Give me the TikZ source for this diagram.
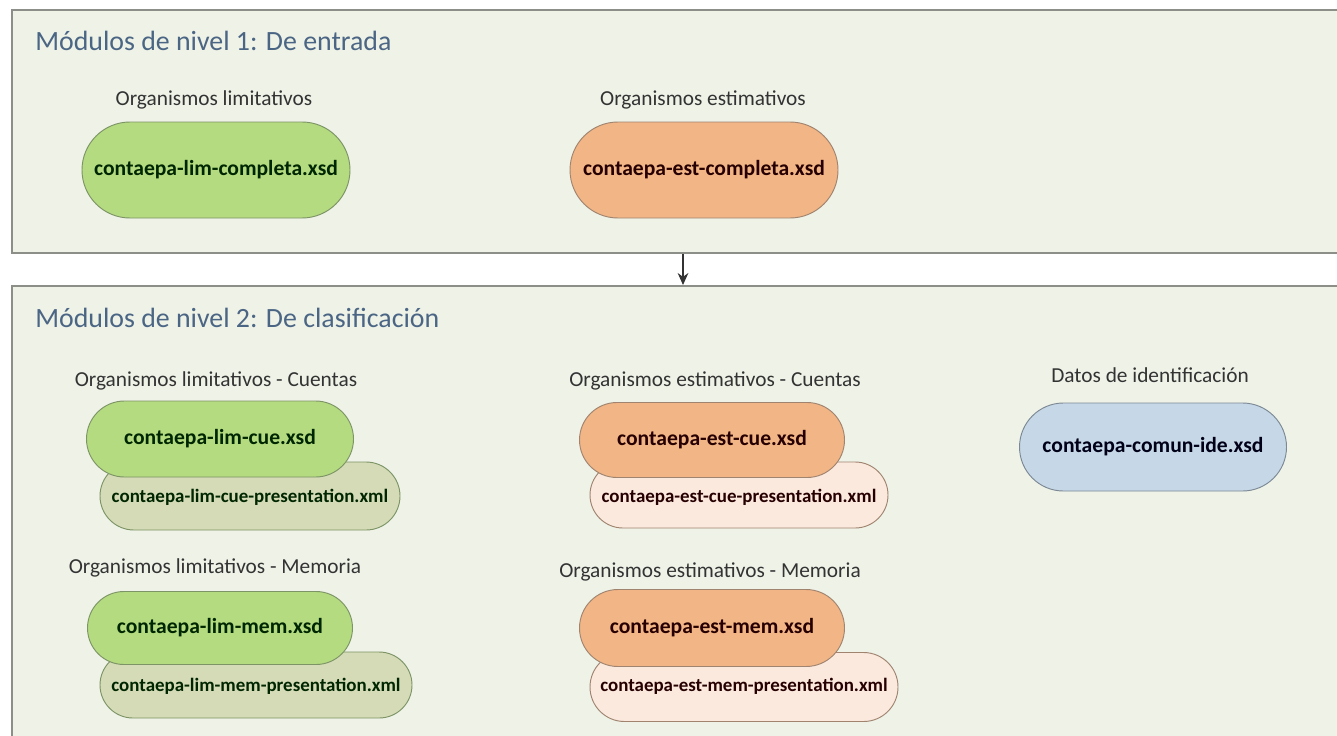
\documentclass[tikz,border=0pt]{standalone}
\usepackage{fontspec}
\setmainfont{Carlito}
\usetikzlibrary{shapes.misc,arrows.meta}
\definecolor{bgpanel}{HTML}{EEF2E7}
\definecolor{panelline}{HTML}{8C8F88}
\definecolor{titlecol}{HTML}{4B6584}
\definecolor{limfill}{HTML}{B4DB80}
\definecolor{limline}{HTML}{7D9466}
\definecolor{limpres}{HTML}{D4DBB6}
\definecolor{estfill}{HTML}{F2B585}
\definecolor{estline}{HTML}{A08470}
\definecolor{estpres}{HTML}{FBE9DE}
\definecolor{idefill}{HTML}{C6D7E7}
\definecolor{ideline}{HTML}{7C8894}
\definecolor{labcol}{HTML}{333333}
\tikzset{
  panel/.style={draw=panelline, line width=1.2pt, fill=bgpanel, inner sep=0pt, anchor=north west},
  paneltitle/.style={anchor=west, inner sep=0pt, text=titlecol, font=\fontsize{20.9}{23}\selectfont},
  grouplabel/.style={inner sep=0pt, text=labcol, font=\fontsize{16}{18}\selectfont},
  pill/.style={rounded rectangle, line width=0.7pt, inner sep=0pt, font=\bfseries\fontsize{16.2}{18}\selectfont},
  pres/.style={rounded rectangle, line width=0.7pt, inner sep=0pt},
  prestext/.style={inner sep=0pt, font=\bfseries\fontsize{14.2}{16}\selectfont},
  limxsd/.style={pill, draw=limline, fill=limfill, text=black!85!green},
  estxsd/.style={pill, draw=estline, fill=estfill, text=black!85!red},
  idexsd/.style={pill, draw=ideline, fill=idefill, text=black!90!blue},
  limxml/.style={pres, draw=limline, fill=limpres},
  estxml/.style={pres, draw=estline, fill=estpres},
  limtxt/.style={prestext, text=black!85!green},
  esttxt/.style={prestext, text=black!85!red},
  flow/.style={draw=black!80, line width=0.9pt, -{Stealth[length=9pt,width=8pt]}}
}
\begin{document}
\begin{tikzpicture}[x=0.75pt,y=-0.75pt]
\useasboundingbox (0,0) rectangle (1337,735);
\fill[white] (0,0) rectangle (1337,735);
\begin{scope}
\clip (0,0) rectangle (1337,735);
% panels
\node[panel, minimum width=1360*0.75pt, minimum height=243*0.75pt] (lvl1) at (11,9) {};
\node[panel, minimum width=1360*0.75pt, minimum height=470*0.75pt] (lvl2) at (11,285) {};
\end{scope}
\coordinate (ax) at (683,0);
\draw[flow] (lvl1.south -| ax) -- (lvl2.north -| ax);

% level 1
\node[paneltitle] (t1) at (35,41) {Módulos de nivel 1: De entrada};
\node[grouplabel] (g1) at (214,100) {Organismos limitativos};
\node[limxsd, minimum width=268*0.75pt, minimum height=96*0.75pt] (limcomp) at (216,170) {contaepa-lim-completa.xsd};
\node[grouplabel] (g2) at (703,100) {Organismos estimativos};
\node[estxsd, minimum width=268*0.75pt, minimum height=96*0.75pt] (estcomp) at (704,170) {contaepa-est-completa.xsd};

% level 2
\node[paneltitle] (t2) at (35,318) {Módulos de nivel 2: De clasificación};

\node[grouplabel] (g3) at (216,381) {Organismos limitativos - Cuentas};
\node[limxml, minimum width=300*0.75pt, minimum height=68*0.75pt] (limcuep) at (250,496) {};
\node[limtxt] (limcuept) at (250,497) {contaepa-lim-cue-presentation.xml};
\node[limxsd, minimum width=267*0.75pt, minimum height=76*0.75pt] (limcue) at (220,439) {contaepa-lim-cue.xsd};

\node[grouplabel] (g4) at (215,568) {Organismos limitativos - Memoria};
\node[limxml, minimum width=312*0.75pt, minimum height=66*0.75pt] (limmemp) at (256,685) {};
\node[limtxt] (limmempt) at (256,686) {contaepa-lim-mem-presentation.xml};
\node[limxsd, minimum width=265*0.75pt, minimum height=73*0.75pt] (limmem) at (220,628) {contaepa-lim-mem.xsd};

\node[grouplabel] (g5) at (715,381) {Organismos estimativos - Cuentas};
\node[estxml, minimum width=298*0.75pt, minimum height=66*0.75pt] (estcuep) at (739,495) {};
\node[esttxt] (estcuept) at (739,497) {contaepa-est-cue-presentation.xml};
\node[estxsd, minimum width=265*0.75pt, minimum height=75*0.75pt] (estcue) at (712,440) {contaepa-est-cue.xsd};

\node[grouplabel] (g6) at (710,572) {Organismos estimativos - Memoria};
\node[estxml, minimum width=308*0.75pt, minimum height=69*0.75pt] (estmemp) at (744,687) {};
\node[esttxt] (estmempt) at (744,686) {contaepa-est-mem-presentation.xml};
\node[estxsd, minimum width=265*0.75pt, minimum height=77*0.75pt] (estmem) at (712,628) {contaepa-est-mem.xsd};

\node[grouplabel] (g7) at (1150,375) {Datos de identificación};
\node[idexsd, minimum width=267*0.75pt, minimum height=88*0.75pt] (comide) at (1153,447) {contaepa-comun-ide.xsd};
\end{tikzpicture}
\end{document}
